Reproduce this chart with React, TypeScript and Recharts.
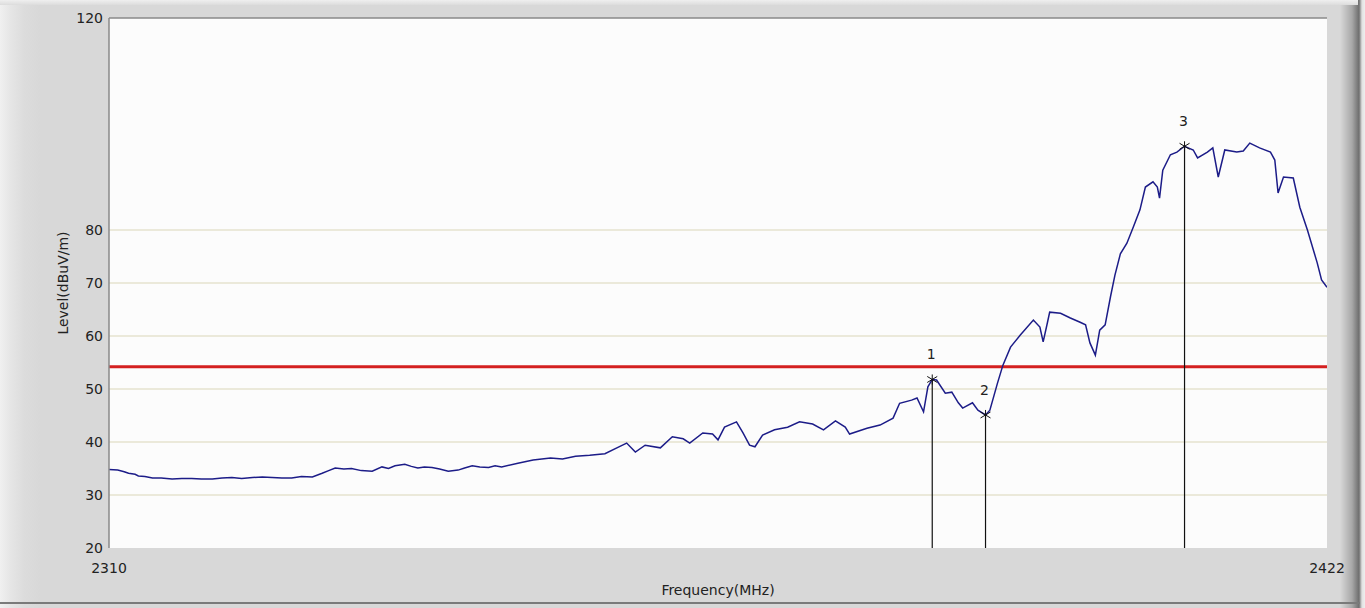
import React from 'react';
import {
  ComposedChart,
  Line,
  Scatter,
  XAxis,
  YAxis,
  CartesianGrid,
  ReferenceLine,
} from 'recharts';

const freqMHz = [
  2310.0, 2310.8, 2311.4, 2311.8, 2312.4, 2312.7, 2313.3, 2314.0, 2314.8, 2315.8,
  2316.7, 2317.6, 2318.5, 2319.5, 2320.4, 2321.3, 2322.2, 2323.2, 2324.1, 2325.0,
  2325.9, 2326.8, 2327.7, 2328.7, 2329.6, 2330.2, 2330.8, 2331.6, 2332.3, 2333.2,
  2334.2, 2335.1, 2335.7, 2336.3, 2337.2, 2337.8, 2338.4, 2339.0, 2339.7, 2340.4,
  2341.2, 2342.1, 2342.7, 2343.4, 2344.1, 2344.9, 2345.5, 2346.1, 2347.6, 2349.0,
  2350.6, 2351.7, 2352.9, 2354.2, 2355.6, 2356.7, 2357.6, 2358.4, 2359.3, 2360.7,
  2361.8, 2362.8, 2363.4, 2364.6, 2365.5, 2366.0, 2366.6, 2367.7, 2368.3, 2368.9,
  2369.4, 2370.1, 2371.2, 2372.4, 2373.5, 2374.7, 2375.7, 2376.8, 2377.7, 2378.1,
  2379.7, 2380.9, 2382.1, 2382.7, 2383.8, 2384.3, 2384.9, 2385.3, 2385.7, 2386.1,
  2386.9, 2387.5, 2388.1, 2388.5, 2389.4, 2389.9, 2390.6, 2391.0, 2391.7, 2392.2,
  2392.9, 2393.8, 2395.0, 2395.6, 2395.9, 2396.3, 2396.5, 2397.5, 2398.4, 2399.3,
  2399.8, 2400.2, 2400.7, 2401.1, 2401.6, 2402.1, 2402.5, 2403.0, 2403.6, 2404.2,
  2404.8, 2405.3, 2406.0, 2406.4, 2406.6, 2406.9, 2407.6, 2408.2, 2408.9, 2409.7,
  2410.1, 2411.0, 2411.5, 2412.0, 2412.6, 2413.7, 2414.3, 2414.9, 2415.8, 2416.8,
  2417.2, 2417.5, 2418.0, 2418.9, 2419.5, 2420.2, 2421.1, 2421.5, 2422.0,
];

const levelDb = [
  34.8, 34.7, 34.4, 34.1, 33.9, 33.6, 33.5, 33.2, 33.2, 33.0,
  33.1, 33.1, 33.0, 33.0, 33.2, 33.3, 33.1, 33.3, 33.4, 33.3,
  33.2, 33.2, 33.5, 33.4, 34.1, 34.6, 35.1, 34.9, 35.0, 34.6,
  34.5, 35.3, 35.0, 35.5, 35.8, 35.4, 35.1, 35.3, 35.2, 34.9,
  34.5, 34.7, 35.1, 35.5, 35.3, 35.2, 35.5, 35.3, 36.0, 36.6,
  37.0, 36.8, 37.3, 37.5, 37.8, 38.9, 39.8, 38.1, 39.4, 38.9,
  41.0, 40.6, 39.8, 41.7, 41.5, 40.4, 42.8, 43.8, 41.7, 39.4,
  39.1, 41.3, 42.3, 42.8, 43.8, 43.4, 42.3, 44.0, 42.8, 41.5,
  42.6, 43.2, 44.5, 47.3, 47.9, 48.3, 45.7, 50.4, 51.8, 51.7,
  49.2, 49.4, 47.4, 46.4, 47.4, 46.0, 45.1, 46.0, 51.1, 54.5,
  57.9, 60.2, 63.0, 61.7, 58.9, 62.6, 64.5, 64.3, 63.4, 62.6,
  62.1, 58.7, 56.4, 61.1, 62.1, 67.5, 71.5, 75.5, 77.5, 80.6,
  83.8, 88.1, 89.1, 88.1, 86.0, 91.3, 94.2, 94.7, 95.8, 95.1,
  93.6, 94.7, 95.5, 90.0, 95.1, 94.7, 94.9, 96.4, 95.5, 94.7,
  93.2, 87.0, 90.0, 89.8, 84.3, 80.0, 73.8, 70.6, 69.2,
];

const markerFreq = [2385.7, 2390.6, 2408.9];
const markerLevel = [51.8, 45.1, 95.8];
const markerLabel = ['1', '2', '3'];

const limitLevel = 54.2;
const gridLevels = [30, 40, 50, 60, 70, 80];
const yTicks = [20, 30, 40, 50, 60, 70, 80, 120];
const xTicks = [2310, 2422];

const traceData = freqMHz.map((f, i) => ({ freq: f, level: levelDb[i] }));
const markerData = markerFreq.map((f, i) => ({
  freq: f,
  level: markerLevel[i],
  name: markerLabel[i],
}));

const FONT = '"DejaVu Sans", Verdana, sans-serif';

const MarkerShape = (props: any) => {
  const { cx, cy, payload } = props;
  if (cx == null || cy == null) return null;
  const r = 5;
  return (
    <g>
      <line x1={cx} y1={cy - r} x2={cx} y2={cy + r} stroke="#111" strokeWidth={1} />
      <line x1={cx - r} y1={cy - 3} x2={cx + r} y2={cy + 3} stroke="#111" strokeWidth={1} />
      <line x1={cx - r} y1={cy + 3} x2={cx + r} y2={cy - 3} stroke="#111" strokeWidth={1} />
      <text
        x={cx - 1}
        y={cy - 20}
        textAnchor="middle"
        fontFamily={FONT}
        fontSize={14}
        fill="#222"
      >
        {payload.name}
      </text>
    </g>
  );
};

export default function App() {
  return (
    <div
      style={{
        position: 'absolute',
        left: 0,
        top: 0,
        width: 1365,
        height: 608,
        overflow: 'hidden',
        background:
          'linear-gradient(to right, #f0f0f0 0px, #e6e6e6 10px, #dcdcdc 24px, #d8d8d8 40px, #d8d8d8 1340px, #a8a8a8 1352px, #6e6e6e 1359px, #e2e2e2 1362px, #eeeeee 1365px)',
      }}
    >
      <div
        style={{
          position: 'absolute',
          left: 0,
          top: 0,
          width: 1358,
          height: 5,
          background: 'linear-gradient(to bottom, #efefef, #dcdcdc)',
        }}
      />
      <div
        style={{
          position: 'absolute',
          left: 0,
          top: 602,
          width: 1360,
          height: 2,
          background: '#7a7a7a',
        }}
      />
      <div style={{ position: 'absolute', left: 0, top: 0 }}>
        <ComposedChart
          width={1365}
          height={608}
          data={traceData}
          margin={{ top: 18, right: 38, bottom: 8, left: 49 }}
        >
          <CartesianGrid
            horizontal={false}
            vertical={false}
            fill="#fcfcfc"
            stroke="none"
          />
          <XAxis
            type="number"
            dataKey="freq"
            domain={[2310, 2422]}
            ticks={xTicks}
            allowDataOverflow
            axisLine={false}
            tickLine={false}
            tickSize={6}
            tickMargin={9}
            height={52}
            tick={{ fill: '#222', fontSize: 14, fontFamily: FONT }}
            label={{
              value: 'Frequency(MHz)',
              position: 'insideBottom',
              offset: 5,
              fill: '#222',
              fontSize: 14,
              fontFamily: FONT,
            }}
          />
          <YAxis
            type="number"
            domain={[20, 120]}
            ticks={yTicks}
            allowDataOverflow
            width={60}
            axisLine={{ stroke: '#8a8a8a', strokeWidth: 1.5 }}
            tickLine={false}
            tickSize={4}
            tickMargin={2}
            interval={0}
            tick={{ fill: '#222', fontSize: 14, fontFamily: FONT }}
            label={{
              value: 'Level(dBuV/m)',
              angle: -90,
              position: 'insideLeft',
              offset: 14,
              fill: '#222',
              fontSize: 14,
              fontFamily: FONT,
              style: { textAnchor: 'middle' },
            }}
          />
          <ReferenceLine y={120} stroke="#8a8a8a" strokeWidth={1.5} />
          {gridLevels.map((g) => (
            <ReferenceLine key={g} y={g} stroke="#e6e3cf" strokeWidth={1.5} />
          ))}
          <ReferenceLine y={limitLevel} stroke="#d42020" strokeWidth={3} />
          {markerData.map((m) => (
            <ReferenceLine
              key={m.name}
              segment={[
                { x: m.freq, y: 20 },
                { x: m.freq, y: m.level },
              ]}
              stroke="#111"
              strokeWidth={1.2}
            />
          ))}
          <Line
            type="linear"
            dataKey="level"
            stroke="#1c1c88"
            strokeWidth={1.5}
            dot={false}
            activeDot={false}
            isAnimationActive={false}
          />
          <Scatter
            data={markerData}
            dataKey="level"
            shape={MarkerShape}
            isAnimationActive={false}
          />
        </ComposedChart>
      </div>
    </div>
  );
}
